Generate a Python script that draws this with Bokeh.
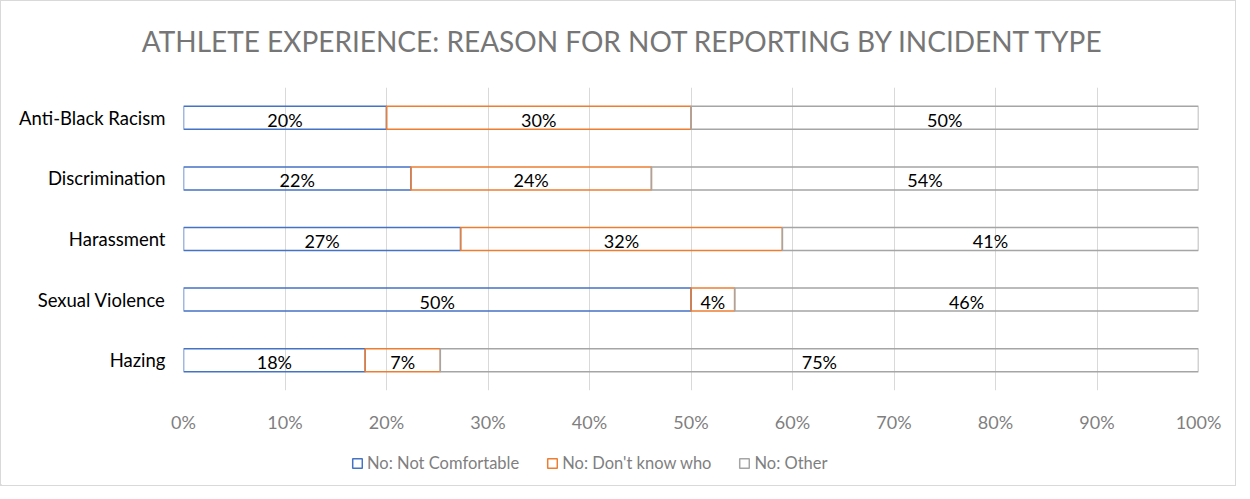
from bokeh.plotting import figure
from bokeh.models import ColumnDataSource, Legend, LegendItem, FactorRange, Range1d, FixedTicker, Label
from bokeh.layouts import column
from bokeh.embed import file_html
from bokeh.resources import INLINE
from bokeh.core.properties import value

title_text = "ATHLETE EXPERIENCE: REASON FOR NOT REPORTING BY INCIDENT TYPE"
categories = ["Anti-Black Racism", "Discrimination", "Harassment", "Sexual Violence", "Hazing"]
not_comfortable = [20.0, 22.4, 27.3, 50.0, 17.9]
dont_know_who = [30.0, 23.7, 31.7, 4.3, 7.4]
other = [50.0, 53.9, 41.0, 45.7, 74.7]
series_names = ["No: Not Comfortable", "No: Don't know who", "No: Other"]
colors = ["#4472C4", "#ED7D31", "#A5A5A5"]
x_ticks = [0, 10, 20, 30, 40, 50, 60, 70, 80, 90, 100]
x_tick_labels = ["0%", "10%", "20%", "30%", "40%", "50%", "60%", "70%", "80%", "90%", "100%"]

FONT = "Lato"
W = 1234


def blank(height):
    f = figure(width=W, height=height, output_backend="svg", toolbar_location=None,
               x_range=Range1d(0, 1), y_range=Range1d(0, 1),
               x_axis_type=None, y_axis_type=None,
               min_border_left=0, min_border_right=0, min_border_top=0, min_border_bottom=0)
    f.frame_align = False
    f.outline_line_color = None
    f.xgrid.grid_line_color = None
    f.ygrid.grid_line_color = None
    f.background_fill_color = "white"
    f.border_fill_color = "white"
    return f


# ---- title strip ----
TH = 70
pt = blank(TH)
pt.add_layout(Label(x=622, y=TH - 39, x_units="screen", y_units="screen", text=title_text,
                    text_align="center", text_baseline="middle", text_font=FONT,
                    text_font_size="28px", text_color="#767676"))

# ---- main chart ----
MH = 370
p = figure(width=W, height=MH, output_backend="svg", toolbar_location=None,
           y_range=FactorRange(factors=list(reversed(categories))),
           x_range=Range1d(0, 100),
           min_border_left=182, min_border_right=37, min_border_top=16, min_border_bottom=51)
p.frame_align = False
p.outline_line_color = None
p.background_fill_color = "white"
p.border_fill_color = "white"

p.ygrid.grid_line_color = None
p.xgrid.grid_line_color = "#D9D9D9"
p.xgrid.grid_line_width = 1
p.xgrid.ticker = FixedTicker(ticks=x_ticks)

p.xaxis.ticker = FixedTicker(ticks=x_ticks)
p.xaxis.major_label_overrides = {t: l for t, l in zip(x_ticks, x_tick_labels)}
p.xaxis.axis_line_color = None
p.xaxis.major_tick_line_color = None
p.xaxis.minor_tick_line_color = None
p.xaxis.major_tick_out = 0
p.xaxis.minor_tick_out = 0
p.xaxis.major_label_standoff = 20
p.xaxis.major_label_text_font = FONT
p.xaxis.major_label_text_font_size = "18px"
p.xaxis.major_label_text_color = "#7F7F7F"

p.yaxis.axis_line_color = None
p.yaxis.major_tick_line_color = None
p.yaxis.minor_tick_line_color = None
p.yaxis.major_tick_out = 0
p.yaxis.minor_tick_out = 0
p.yaxis.major_label_standoff = 18
p.yaxis.major_label_text_font = FONT
p.yaxis.major_label_text_font_size = "18.5px"
p.yaxis.major_label_text_color = "#000000"

series = [not_comfortable, dont_know_who, other]
cum = [0.0] * len(categories)
for vals, name, col in zip(series, series_names, colors):
    left = list(cum)
    right = [a + b for a, b in zip(cum, vals)]
    src = ColumnDataSource(dict(
        cat=categories, left=left, right=right,
        mid=[(a + b) / 2 for a, b in zip(left, right)],
        lab=[f"{round(v)}%" for v in vals]))
    p.hbar(y="cat", left="left", right="right", height=0.38, source=src,
           fill_color=None, line_color=col, line_width=1.5)
    p.text(x="mid", y="cat", text="lab", source=src, text_align="center",
           text_baseline="middle", text_font=value(FONT), text_font_size="18px",
           text_color="#000000", y_offset=2)
    cum = right

# ---- legend strip ----
LH = 484 - TH - MH
pl = blank(LH)
leg_renderers = []
for col in colors:
    # one off-screen bar per series so that the legend can draw its swatch
    leg_renderers.append(pl.hbar(y=[-50], left=[-20], right=[-10], height=0.5,
                                 fill_color=None, line_color=col, line_width=1.5))
legend = Legend(items=[LegendItem(label=n, renderers=[r]) for n, r in zip(series_names, leg_renderers)],
                orientation="horizontal", location=(350, LH - 22 - 10),
                glyph_width=12, glyph_height=12, label_standoff=4, spacing=27,
                label_height=20, padding=0, margin=0, border_line_color=None,
                background_fill_alpha=0,
                label_text_font=FONT, label_text_font_size="16.5px", label_text_color="#7F7F7F")
pl.add_layout(legend, "center")

layout = column(pt, p, pl, spacing=0)
layout.styles = {"border": "1px solid #D9D9D9"}

open("out.html", "w").write(file_html(layout, INLINE))
